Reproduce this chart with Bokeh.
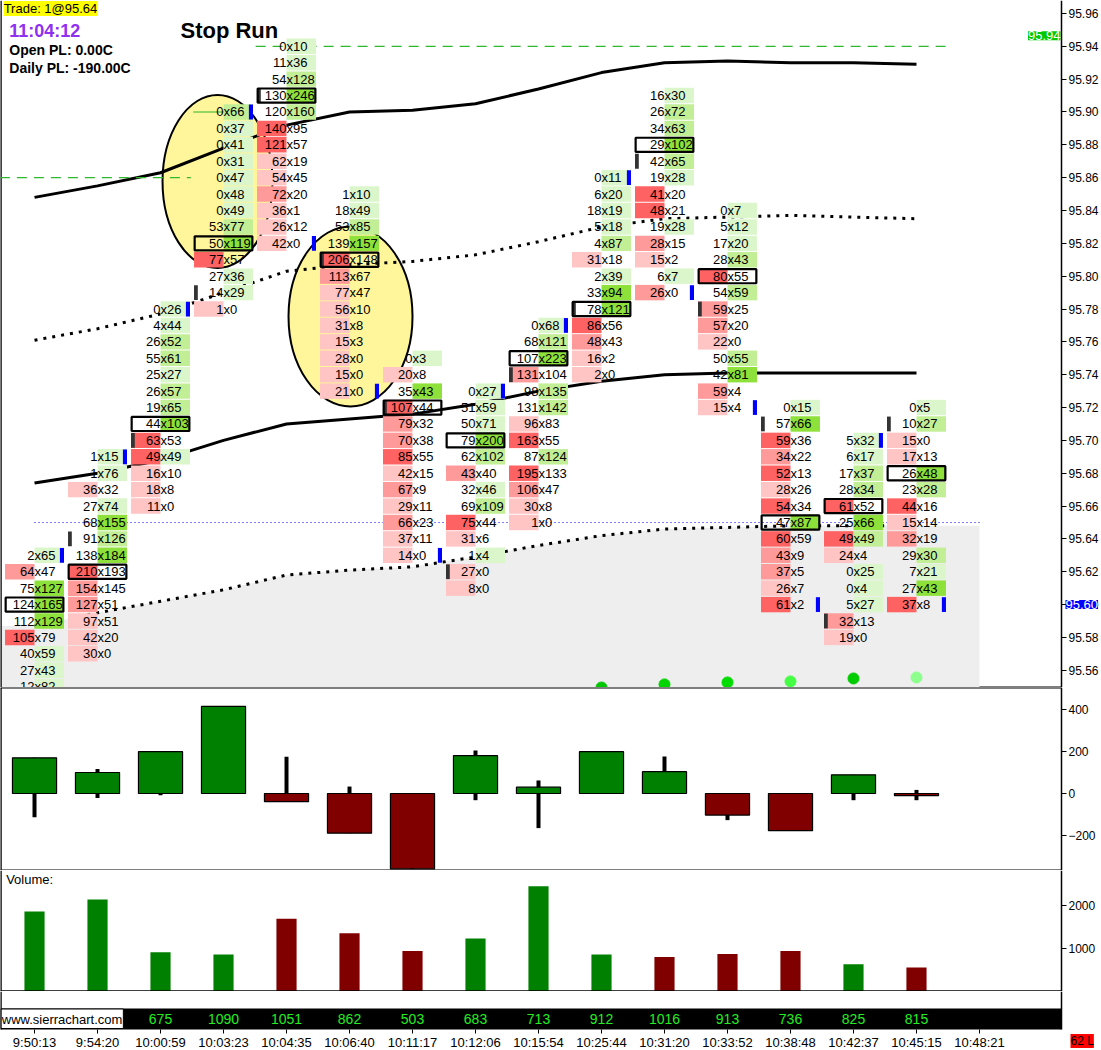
from bokeh.plotting import figure
from bokeh.layouts import column
from bokeh.models import Range1d, FixedTicker, Label, ColumnDataSource, NumeralTickFormatter
from bokeh.core.properties import value
from bokeh.embed import file_html
from bokeh.resources import INLINE

# ---------------- data ----------------
times = ["9:50:13", "9:54:20", "10:00:59", "10:03:23", "10:04:35", "10:06:40", "10:11:17", "10:12:06",
         "10:15:54", "10:25:44", "10:31:20", "10:33:52", "10:38:48", "10:42:37", "10:45:15", "10:48:21"]

col_top = [95.63, 95.69, 95.78, 95.90, 95.94, 95.85, 95.75, 95.73, 95.77, 95.86, 95.91, 95.84, 95.72, 95.70, 95.72]
bids = [
    [2, 64, 75, 124, 112, 105, 40, 27, 12],
    [1, 1, 36, 27, 68, 91, 138, 210, 154, 127, 97, 42, 30],
    [0, 4, 26, 55, 25, 26, 19, 44, 63, 49, 16, 18, 11],
    [0, 0, 0, 0, 0, 0, 0, 53, 50, 77, 27, 14, 1],
    [0, 11, 54, 130, 120, 140, 121, 62, 54, 72, 36, 26, 42],
    [1, 18, 53, 139, 206, 113, 77, 56, 31, 15, 28, 15, 21],
    [0, 20, 35, 107, 79, 70, 85, 42, 67, 29, 66, 37, 14],
    [0, 51, 50, 79, 62, 43, 32, 69, 75, 31, 1, 27, 8],
    [0, 68, 107, 131, 98, 131, 96, 163, 87, 195, 106, 30, 1],
    [0, 6, 18, 5, 4, 31, 2, 33, 78, 86, 48, 16, 2],
    [16, 26, 34, 29, 42, 19, 41, 48, 19, 28, 15, 6, 26],
    [0, 5, 17, 28, 80, 54, 59, 57, 22, 50, 42, 59, 15],
    [0, 57, 59, 34, 52, 28, 54, 47, 60, 43, 37, 26, 61],
    [5, 6, 17, 28, 61, 25, 49, 24, 0, 0, 5, 32, 19],
    [0, 10, 15, 17, 26, 23, 44, 15, 32, 29, 7, 27, 37],
]
asks = [
    [65, 47, 127, 165, 129, 79, 59, 43, 82],
    [15, 76, 32, 74, 155, 126, 184, 193, 145, 51, 51, 20, 0],
    [26, 44, 52, 61, 27, 57, 65, 103, 53, 49, 10, 8, 0],
    [66, 37, 41, 31, 47, 48, 49, 77, 119, 57, 36, 29, 0],
    [10, 36, 128, 246, 160, 95, 57, 19, 45, 20, 1, 12, 0],
    [10, 49, 85, 157, 148, 67, 47, 10, 8, 3, 0, 0, 0],
    [3, 8, 43, 44, 32, 38, 55, 15, 9, 11, 23, 11, 0],
    [27, 59, 71, 200, 102, 40, 46, 109, 44, 6, 4, 0, 0],
    [68, 121, 223, 104, 135, 142, 83, 55, 124, 133, 47, 8, 0],
    [11, 20, 19, 18, 87, 18, 39, 94, 121, 56, 43, 2, 0],
    [30, 72, 63, 102, 65, 28, 20, 21, 28, 15, 2, 7, 0],
    [7, 12, 20, 43, 55, 59, 25, 20, 0, 55, 81, 4, 4],
    [15, 66, 36, 22, 13, 26, 34, 87, 59, 9, 5, 7, 2],
    [32, 17, 37, 34, 52, 66, 49, 4, 25, 4, 27, 13, 0],
    [5, 27, 0, 13, 48, 28, 16, 14, 19, 30, 21, 43, 8],
]
open_px = [None, 95.64, 95.70, 95.79, 95.91, 95.81, 95.72, 95.62, 95.74, 95.78, 95.87, 95.78, 95.71, 95.59, 95.71]
close_px = [95.63, 95.69, 95.78, 95.90, 95.82, 95.73, 95.63, 95.73, 95.77, 95.86, 95.79, 95.72, 95.60, 95.70, 95.60]

band_upper = [95.848, 95.855, 95.863, 95.878, 95.892, 95.900, 95.901, 95.905, 95.914, 95.924, 95.930, 95.931, 95.930, 95.930, 95.929]
band_dot_upper = [95.761, 95.768, 95.777, 95.790, 95.803, 95.807, 95.809, 95.813, 95.821, 95.830, 95.835, 95.836, 95.837, 95.836, 95.835]
band_mid = [95.674, 95.680, 95.688, 95.700, 95.710, 95.713, 95.716, 95.722, 95.730, 95.736, 95.740, 95.741, 95.741, 95.741, 95.741]
band_dot_lower = [95.587, 95.595, 95.602, 95.609, 95.618, 95.621, 95.623, 95.629, 95.636, 95.642, 95.646, 95.647, 95.648, 95.648, 95.648]

dot_cols = [9, 10, 11, 12, 13, 14]
dot_px = [95.5495, 95.5514, 95.5526, 95.5532, 95.5550, 95.5556]
dot_colors = ["#00c800", "#00d400", "#00dc00", "#44ff44", "#00cc00", "#8cff8c"]

delta_close = [170, 100, 199, 415, -39, -189, -359, 180, 30, 199, 104, -103, -177, 89, -10]
delta_high = [170, 117, 199, 415, 175, 33, 0, 205, 62, 199, 176, 0, 0, 89, 17]
delta_low = [-113, -22, -8, 0, -39, -189, -359, -32, -165, 0, 0, -127, -177, -32, -32]
volume = [1866, 2144, 911, 859, 1697, 1357, 943, 1236, 2456, 857, 802, 873, 939, 631, 554]
strip_values = ["", "", "675", "1090", "1051", "862", "503", "683", "713", "912", "1016", "913", "736", "825", "815"]

price_ticks = [95.56, 95.58, 95.60, 95.62, 95.64, 95.66, 95.68, 95.70, 95.72, 95.74, 95.76, 95.78,
               95.80, 95.82, 95.84, 95.86, 95.88, 95.90, 95.92, 95.94, 95.96]
last_price = 95.60
study_price = 95.9465
study_text = "95.94"
status_text = "62 L"

# annotation zones (column-index units, price units)
ellipse_x = [2.905, 5.016]
ellipse_y = [95.8577, 95.7755]
ellipse_w = [1.746, 1.968]
ellipse_h = [0.1054, 0.1096]

# ---------------- style ----------------
FONT = "Liberation Sans"
W = 1100
HALF = 0.468
TICK = 0.01
RED = ["#ffc4c4", "#ff9a9a", "#ff6262"]
GREEN = ["#dcf6cc", "#c2ee96", "#8ee03a"]

xr = Range1d(-0.54, 16.921)
AX = 16.302          # where the price / study axes sit (right edge of the chart area)


def level(v, m):
    r = v / m if m else 0
    return 2 if r >= 0.75 else (1 if r >= 0.5 else 0)


def base_fig(height, y_range):
    f = figure(width=W, height=height, x_range=xr, y_range=y_range, toolbar_location=None,
               output_backend="svg", x_axis_location=None, y_axis_location="right",
               min_border_left=0, min_border_right=0, min_border_top=0, min_border_bottom=0)
    f.grid.visible = False
    f.outline_line_color = None
    f.background_fill_color = "white"
    f.border_fill_color = "white"
    ax = f.yaxis[0]
    ax.fixed_location = AX
    ax.axis_line_color = "black"
    ax.axis_line_width = 1.5
    ax.major_tick_out = 5
    ax.major_tick_in = 0
    ax.minor_tick_line_color = None
    ax.major_tick_line_color = "black"
    ax.major_label_text_font = FONT
    ax.major_label_text_font_size = "12px"
    ax.major_label_text_color = "black"
    ax.major_label_standoff = 2
    return f


def edges(f, ys, y_lo, y_hi):
    # pane separators (only up to the axis) and the left border
    f.segment(x0=[xr.start] * len(ys), y0=ys, x1=[AX] * len(ys), y1=ys, line_color="black", line_width=2)
    f.segment(x0=[xr.start], y0=[y_lo], x1=[xr.start], y1=[y_hi], line_color="black", line_width=2.5)


# ---------------- price pane ----------------
PY = Range1d(95.5495, 95.9679)
p = base_fig(687, PY)
p.yaxis.ticker = FixedTicker(ticks=price_ticks)
p.yaxis.formatter = NumeralTickFormatter(format="0.00")

gx = [xr.start] + list(range(len(band_dot_lower))) + [15]
gy = [band_dot_lower[0]] + band_dot_lower + [band_dot_lower[-1]]
p.varea(x=gx, y1=[95.5] * len(gx), y2=gy, fill_color="#eeeeee")
edges(p, [], PY.start, PY.end)
p.segment(x0=[15], y0=[PY.start], x1=[AX], y1=[PY.start], line_color="black", line_width=2)

p.ellipse(x=ellipse_x, y=ellipse_y, width=ellipse_w, height=ellipse_h,
          fill_color="#fff59a", line_color="black", line_width=2)

cols = list(range(len(band_upper)))
p.line(cols, band_upper, line_color="black", line_width=3)
p.line(cols, band_mid, line_color="black", line_width=3)
p.line(cols, band_dot_upper, line_color="black", line_width=3, line_dash="3 6")
p.line(cols, band_dot_lower, line_color="black", line_width=3, line_dash="3 6")

p.segment(x0=[3.51, -0.55], y0=[95.94, 95.86], x1=[14.46, 2.48], y1=[95.94, 95.86],
          line_color="#2db82d", line_width=1.2, line_dash="10 7")
p.segment(x0=[2.52], y0=[95.90], x1=[3.43], y1=[95.90], line_color="#2db82d", line_width=1.2)
p.segment(x0=[0], y0=[95.65], x1=[15], y1=[95.65], line_color="#0000ff", line_width=1.2, line_dash="1 3")

cell = dict(left=[], right=[], top=[], bottom=[], color=[])
boxes = dict(left=[], right=[], top=[], bottom=[])
btxt = dict(x=[], y=[], t=[])
atxt = dict(x=[], y=[], t=[])
for i, (top, bl, al) in enumerate(zip(col_top, bids, asks)):
    bmax, amax = max(bl), max(al)
    tots = [b + a for b, a in zip(bl, al)]
    for k, (b, a) in enumerate(zip(bl, al)):
        pr = round(top - k * TICK, 2)
        if b >= a:
            cell["left"].append(i - HALF); cell["right"].append(i)
            cell["top"].append(pr + 0.0047); cell["bottom"].append(pr - 0.0047)
            cell["color"].append(RED[level(b, bmax)])
        if a >= b:
            cell["left"].append(i); cell["right"].append(i + HALF)
            cell["top"].append(pr + 0.0047); cell["bottom"].append(pr - 0.0047)
            cell["color"].append(GREEN[level(a, amax)])
        if tots[k] == max(tots):
            boxes["left"].append(i - HALF + 0.01); boxes["right"].append(i + HALF - 0.01)
            boxes["top"].append(pr + 0.0043); boxes["bottom"].append(pr - 0.0043)
        btxt["x"].append(i); btxt["y"].append(pr); btxt["t"].append(str(b))
        atxt["x"].append(i); atxt["y"].append(pr); atxt["t"].append("x" + str(a))

p.quad(source=ColumnDataSource(cell), left="left", right="right", top="top", bottom="bottom",
       fill_color="color", line_color=None)

om = dict(left=[], right=[], top=[], bottom=[])
for i, o in enumerate(open_px):
    if o is not None:
        om["left"].append(i - HALF); om["right"].append(i - HALF + 0.06)
        om["top"].append(o + 0.0045); om["bottom"].append(o - 0.0045)
cm = dict(left=[], right=[], top=[], bottom=[])
for i, c in enumerate(close_px):
    cm["left"].append(i + HALF - 0.065); cm["right"].append(i + HALF)
    cm["top"].append(c + 0.0045); cm["bottom"].append(c - 0.0045)
p.quad(source=ColumnDataSource(om), left="left", right="right", top="top", bottom="bottom",
       fill_color="#333333", line_color=None)
p.quad(source=ColumnDataSource(cm), left="left", right="right", top="top", bottom="bottom",
       fill_color="#0000ff", line_color=None)

p.text(source=ColumnDataSource(btxt), x="x", y="y", text="t", text_align="right", text_baseline="middle",
       text_font=value(FONT), text_font_size=value("13px"), text_color="black")
p.text(source=ColumnDataSource(atxt), x="x", y="y", text="t", text_align="left", text_baseline="middle",
       text_font=value(FONT), text_font_size=value("13px"), text_color="black")
p.quad(source=ColumnDataSource(boxes), left="left", right="right", top="top", bottom="bottom",
       fill_color=None, line_color="black", line_width=2.2)

p.scatter(x=dot_cols, y=dot_px, size=11, fill_color=dot_colors, line_color=dot_colors)

p.add_layout(Label(x=-0.49, y=95.9676, text="Trade: 1@95.64", text_font=FONT, text_font_size="13px",
                   text_baseline="top", background_fill_color="#ffff00", text_color="black"))
p.add_layout(Label(x=-0.40, y=95.9555, text="11:04:12", text_font=FONT, text_font_size="18px",
                   text_font_style="bold", text_baseline="top", text_color="#9030f0"))
p.add_layout(Label(x=-0.40, y=95.9425, text="Open PL: 0.00C", text_font=FONT, text_font_size="14px",
                   text_font_style="bold", text_baseline="top", text_color="black"))
p.add_layout(Label(x=-0.40, y=95.9315, text="Daily PL: -190.00C", text_font=FONT, text_font_size="14px",
                   text_font_style="bold", text_baseline="top", text_color="black"))
p.add_layout(Label(x=2.317, y=95.9575, text="Stop Run", text_font=FONT, text_font_size="22px",
                   text_font_style="bold", text_baseline="top", text_color="black"))
p.add_layout(Label(x=AX, x_offset=-1, y=study_price, text=study_text, text_font=FONT, text_font_size="13px",
                   text_align="right", text_baseline="middle", text_color="white",
                   background_fill_color="#00c800"))
p.add_layout(Label(x=AX, x_offset=4, y=last_price, text="%.2f" % last_price, text_font=FONT,
                   text_font_size="13px", text_align="left", text_baseline="middle", text_color="white",
                   background_fill_color="#0000ff"))

# ---------------- delta pane ----------------
DY = Range1d(-367, 505)
d = base_fig(183, DY)
d.yaxis.ticker = FixedTicker(ticks=[-200, 0, 200, 400])
edges(d, [DY.end, DY.start], DY.start, DY.end)
d.segment(x0=cols, y0=delta_low, x1=cols, y1=delta_high, line_color="black", line_width=4)
dsrc = ColumnDataSource(dict(
    left=[i - 0.35 for i in cols], right=[i + 0.35 for i in cols],
    top=[max(0, c) for c in delta_close], bottom=[min(0, c) for c in delta_close],
    color=["#008000" if c > 0 else "#800000" for c in delta_close]))
d.quad(source=dsrc, left="left", right="right", top="top", bottom="bottom",
       fill_color="color", line_color="black", line_width=1.2)

# ---------------- volume pane ----------------
VY = Range1d(-8, 2826)
v = base_fig(121, VY)
v.yaxis.ticker = FixedTicker(ticks=[1000, 2000])
vcol = []
for i in cols:
    up = close_px[i] > open_px[i] if open_px[i] is not None else True
    vcol.append("#008000" if up else "#800000")
v.vbar(x=cols, top=volume, bottom=0, width=0.32, fill_color=vcol, line_color=None)
edges(v, [VY.start + 8], VY.start, VY.end)
v.add_layout(Label(x=-0.45, y=2800, text="Volume:", text_font=FONT, text_font_size="13px",
                   text_baseline="top", text_color="black"))

# ---------------- bottom strip / time axis ----------------
b = figure(width=W, height=58, x_range=xr, y_range=Range1d(0, 58), toolbar_location=None,
           output_backend="svg", min_border_left=0, min_border_right=0, min_border_top=0,
           min_border_bottom=0, y_axis_location=None)
b.grid.visible = False
b.outline_line_color = None
b.background_fill_color = "white"
b.border_fill_color = "white"
b.segment(x0=[xr.start, AX], y0=[20, 20], x1=[xr.start, AX], y1=[58, 58], line_color="black",
          line_width=[2.5, 1.5])
b.quad(left=[xr.start], right=[AX], bottom=[20], top=[41], fill_color="black", line_color=None)
b.quad(left=[-0.53], right=[1.41], bottom=[21], top=[40.5], fill_color="white", line_color="black")
b.text(x=[-0.52], y=[30.5], text=["www.sierrachart.com"], text_align="left", text_baseline="middle",
       text_font=value(FONT), text_font_size=value("13px"), text_color="black")
b.text(x=cols, y=[30.5] * len(cols), text=strip_values, text_align="center", text_baseline="middle",
       text_font=value(FONT), text_font_size=value("14px"), text_color="#22ee22")
b.xaxis.fixed_location = 20
b.xaxis.ticker = FixedTicker(ticks=list(range(len(times))))
b.xaxis.major_label_overrides = {i: t for i, t in enumerate(times)}
b.xaxis.axis_line_color = None
b.xaxis.major_tick_out = 4
b.xaxis.major_tick_in = 0
b.xaxis.minor_tick_line_color = None
b.xaxis.major_label_standoff = 1
b.xaxis.major_label_text_font = FONT
b.xaxis.major_label_text_font_size = "13px"
b.xaxis.major_label_text_color = "black"
b.add_layout(Label(x=AX, x_offset=9, y=8.5, text=status_text, text_font=FONT, text_font_size="12px",
                   text_align="left", text_baseline="middle", text_color="black",
                   background_fill_color="#ff0000"))

layout = column(p, d, v, b, spacing=0)
open("out.html", "w").write(file_html(layout, INLINE))
